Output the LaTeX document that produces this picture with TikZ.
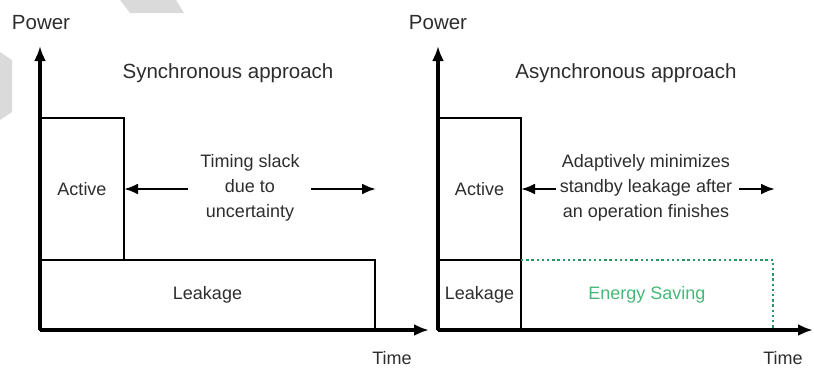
\documentclass[tikz,border=0pt]{standalone}
\usepackage{fontspec}
\setmainfont{Liberation Sans}
\usetikzlibrary{arrows.meta}
\definecolor{txt}{RGB}{45,45,45}
\definecolor{saving}{RGB}{70,185,120}
\definecolor{savingdots}{RGB}{40,150,100}
\definecolor{wm}{RGB}{218,218,218}
\tikzset{
  axis/.style={line width=3.2pt, -{Latex[length=15pt,width=12pt]}},
  boxshape/.style={draw=black, line width=2.8pt, rectangle, inner sep=0pt, outer sep=0pt},
  lbl/.style={text=txt, font=\fontsize{18}{25}\selectfont, inner sep=0pt},
  big/.style={text=txt, font=\fontsize{20.5}{25}\selectfont, inner sep=0pt},
  slackarrow/.style={line width=2.6pt, -{Latex[length=14pt,width=11pt]}},
  savingline/.style={draw=savingdots, line width=2.4pt, dash pattern=on 2.4pt off 2.8pt}
}
\begin{document}
\begin{tikzpicture}[x=1pt,y=-1pt]
\useasboundingbox (0,0) rectangle (814,373);
% watermark fragments
\fill[wm] (120,0) -- (176,0) -- (184,13) -- (130,13) -- cycle;
\fill[wm] (0,52) -- (12,60) -- (12,112) -- (0,120) -- cycle;

% ---------- left panel ----------
\coordinate (oL) at (40,330);
\coordinate (yL) at (40,46);
\coordinate (xL) at (429,330);
\node[boxshape, minimum width=84pt, minimum height=142pt, anchor=north west] (actL) at (40,118) {};
\node[boxshape, minimum width=335pt, minimum height=70pt, anchor=north west] (leakL) at (40,260) {};
\draw[axis] (oL) -- (yL);
\draw[axis] (oL) -- (xL);
\node[lbl] (actLt) at (actL.center) {Active};
\node[lbl] (leakLt) at (leakL.center) {Leakage};
\node[big, anchor=base] (powL) at (41,29) {Power};
\node[big, anchor=base] (titL) at (228,78) {Synchronous approach};
\node[lbl, anchor=base] (timeL) at (392,364) {Time};
\node[lbl, align=center] (slackL) at (250,188) {Timing slack\\due to\\uncertainty};
\coordinate (sLa) at (188,189);
\coordinate (sLb) at (311,189);
\coordinate (sLc) at (376,189);
\draw[slackarrow] (sLa) -- (actL.east |- sLa);
\draw[slackarrow] (sLb) -- (sLc);

% ---------- right panel ----------
\coordinate (oR) at (438,330);
\coordinate (yR) at (438,46);
\coordinate (xR) at (813,330);
\node[boxshape, minimum width=83pt, minimum height=142pt, anchor=north west] (actR) at (438,118) {};
\node[boxshape, minimum width=83pt, minimum height=70pt, anchor=north west] (leakR) at (438,260) {};
\coordinate (sv1) at (773,260);
\coordinate (sv2) at (773,330);
\draw[savingline] (leakR.north east) -- (sv1) -- (sv2);
\draw[axis] (oR) -- (yR);
\draw[axis] (oR) -- (xR);
\node[lbl] (actRt) at (actR.center) {Active};
\node[lbl] (leakRt) at (leakR.center) {Leakage};
\node[lbl, text=saving] (saveR) at (647,295) {Energy Saving};
\node[big, anchor=base] (powR) at (438,29) {Power};
\node[big, anchor=base] (titR) at (626,78) {Asynchronous approach};
\node[lbl, anchor=base] (timeR) at (783,364) {Time};
\node[lbl, align=center] (slackR) at (646,188) {Adaptively minimizes\\standby leakage after\\an operation finishes};
\coordinate (sRa) at (556,189);
\coordinate (sRb) at (739,189);
\coordinate (sRc) at (775,189);
\draw[slackarrow] (sRa) -- (actR.east |- sRa);
\draw[slackarrow] (sRb) -- (sRc);
\end{tikzpicture}
\end{document}
